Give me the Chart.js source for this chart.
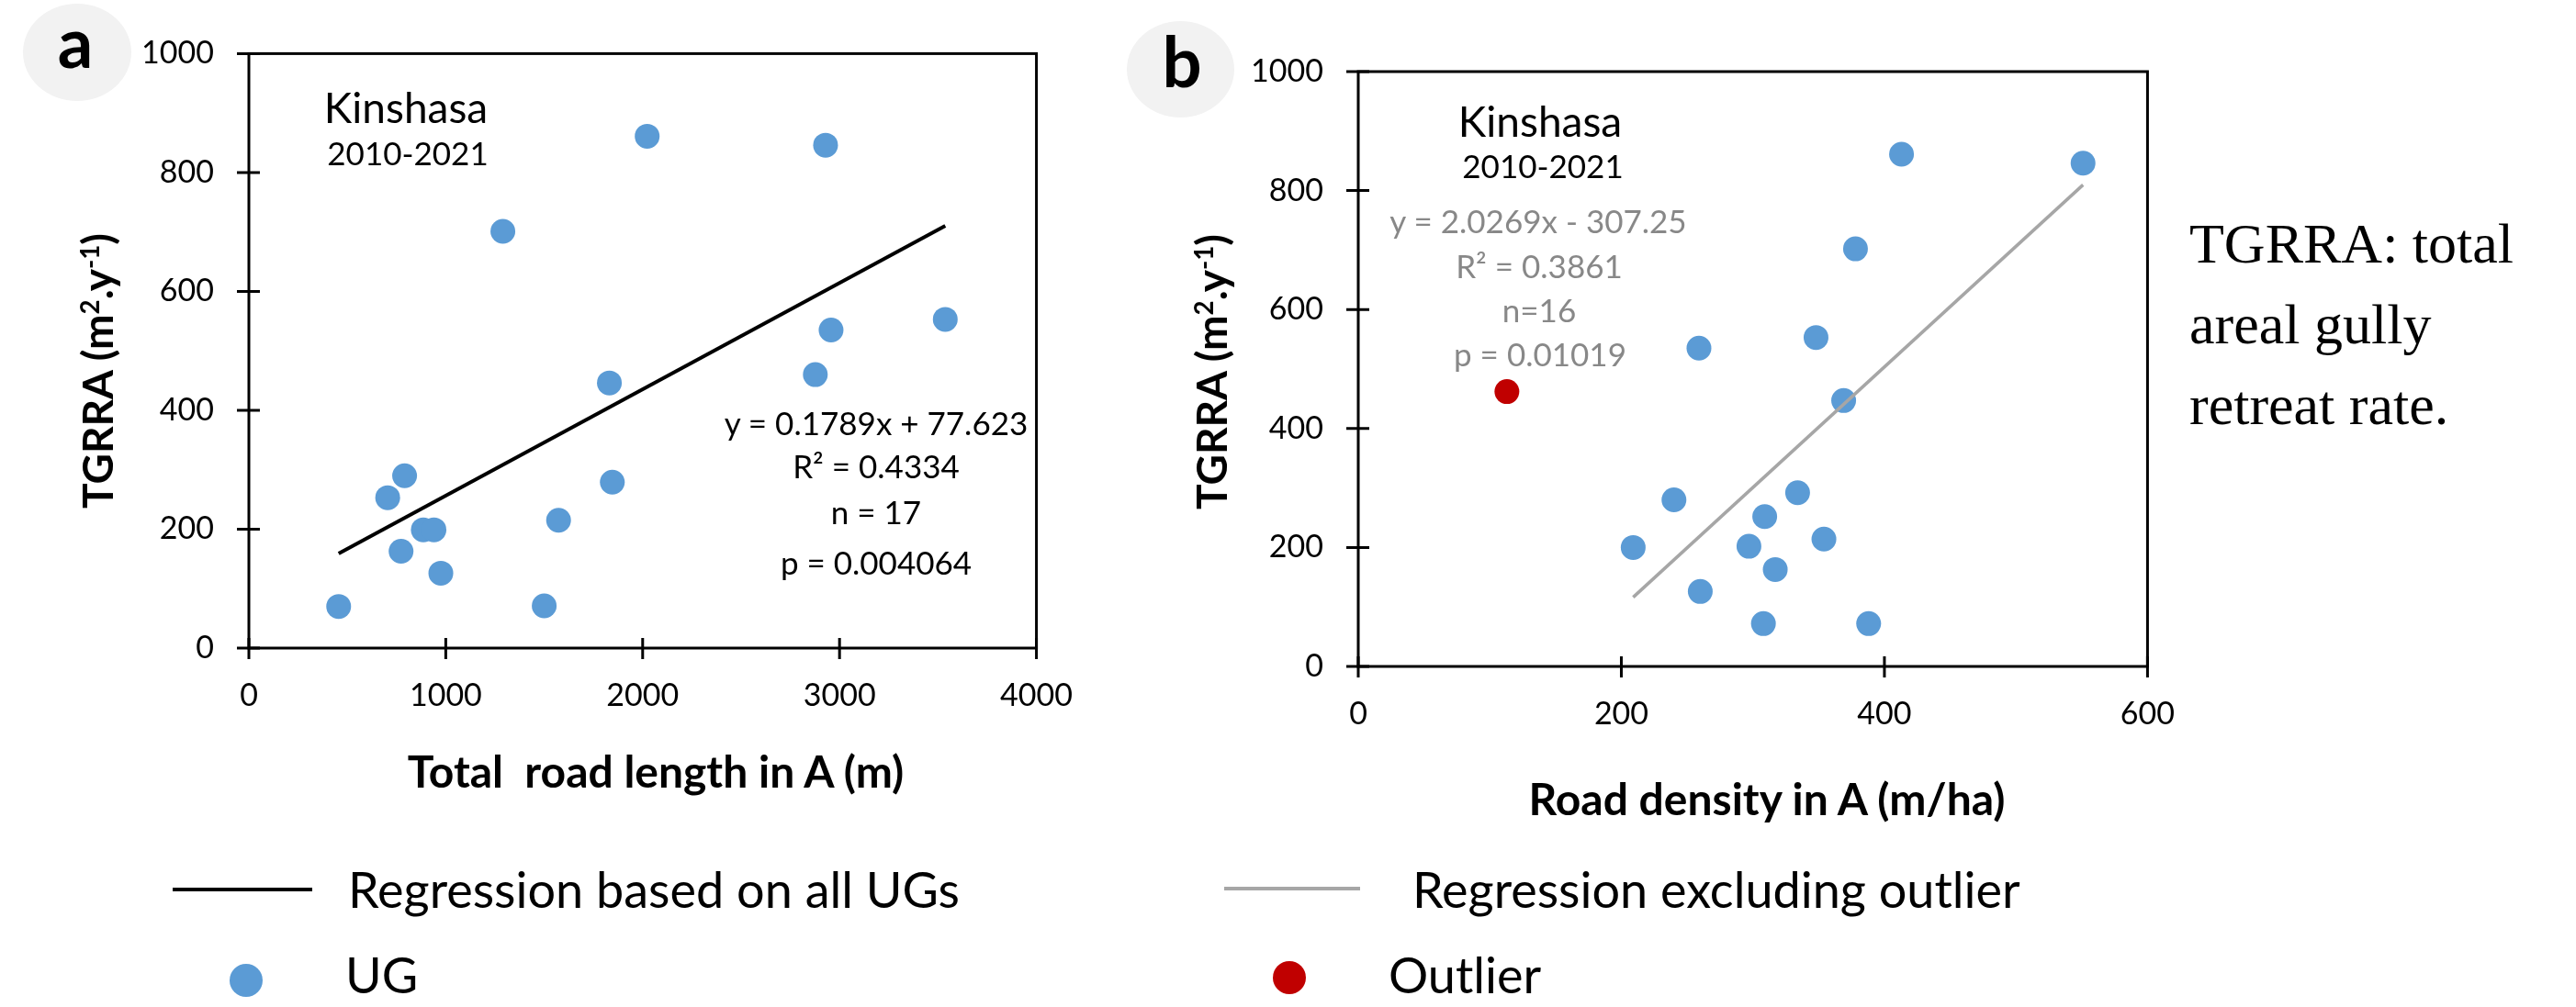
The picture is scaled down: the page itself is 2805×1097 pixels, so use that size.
<!DOCTYPE html>
<html>
<head>
<meta charset="utf-8">
<script src="https://cdn.jsdelivr.net/npm/chart.js@4.4.0/dist/chart.umd.min.js"></script>
<style>
  html, body { margin:0; padding:0; background:#fff; }
  #page { position:relative; width:2805px; height:1097px; overflow:hidden; font-family:Lato, sans-serif; color:#000; }
  canvas { position:absolute; top:0; }
  .t { position:absolute; transform:translate(-50%,-50%); line-height:1; white-space:pre; }
  .gray { color:#888; }
  .ttl { font-weight:bold; font-size:48px; }
  .rot { font-size:46px; transform:translate(-50%,-50%) rotate(-90deg); }
  sup { font-size:0.6em; position:relative; top:-0.55em; vertical-align:baseline; line-height:0; }
  .badge { position:absolute; border-radius:50%; background:#f2f2f2; }
  .letter { font-weight:bold; font-size:76px; }
  .lg-line { position:absolute; height:4px; }
  .lg-dot { position:absolute; width:36px; height:36px; border-radius:50%; transform:translate(-50%,-50%); }
  .lg-text { position:absolute; font-size:54px; line-height:1; transform:translateY(-50%); white-space:nowrap; }
  #note { position:absolute; left:2384px; top:221px; font-family:"Liberation Serif", "Times New Roman", serif; font-size:62px; line-height:88px; }
</style>
</head>
<body>
<div id="page">
  <canvas id="chartA" width="1200" height="900" style="left:0"></canvas>
  <canvas id="chartB" width="1200" height="900" style="left:1200px"></canvas>

  <!-- panel badges -->
  <div class="badge" style="left:25px;top:4px;width:118px;height:106px"></div>
  <div class="t letter" style="left:82px;top:45px">a</div>
  <div class="badge" style="left:1227px;top:23px;width:117px;height:105px"></div>
  <div class="t letter" style="left:1287px;top:66px">b</div>

  <!-- panel a annotations -->
  <div class="t" style="left:442px;top:117px;font-size:46px">Kinshasa</div>
  <div class="t" style="left:444px;top:166px;font-size:35px">2010-2021</div>
  <div class="t" style="left:954px;top:460px;font-size:35px">y = 0.1789x + 77.623</div>
  <div class="t" style="left:954px;top:507px;font-size:35px">R² = 0.4334</div>
  <div class="t" style="left:954px;top:557px;font-size:35px">n = 17</div>
  <div class="t" style="left:954px;top:612px;font-size:35px">p = 0.004064</div>
  <div class="t ttl" style="left:714px;top:840px">Total  road length in A (m)</div>
  <div class="t ttl rot" style="left:106px;top:404px">TGRRA (m<sup>2</sup>.y<sup>-1</sup>)</div>

  <!-- panel b annotations -->
  <div class="t" style="left:1677px;top:132px;font-size:46px">Kinshasa</div>
  <div class="t" style="left:1680px;top:180px;font-size:35px">2010-2021</div>
  <div class="t gray" style="left:1675px;top:240px;font-size:35px">y = 2.0269x - 307.25</div>
  <div class="t gray" style="left:1676px;top:289px;font-size:35px">R² = 0.3861</div>
  <div class="t gray" style="left:1676px;top:337px;font-size:35px">n=16</div>
  <div class="t gray" style="left:1677px;top:385px;font-size:35px">p = 0.01019</div>
  <div class="t ttl" style="left:1924px;top:870px">Road density in A (m/ha)</div>
  <div class="t ttl rot" style="left:1319px;top:405px">TGRRA (m<sup>2</sup>.y<sup>-1</sup>)</div>

  <div id="note">TGRRA: total<br>areal gully<br>retreat rate.</div>

  <!-- shared legend -->
  <div class="lg-line" style="left:188px;top:967px;width:152px;background:#000"></div>
  <div class="lg-text" style="left:379px;top:969px">Regression based on all UGs</div>
  <div class="lg-line" style="left:1333px;top:966px;width:148px;background:#a6a6a6"></div>
  <div class="lg-text" style="left:1538px;top:969px">Regression excluding outlier</div>
  <div class="lg-dot" style="left:268px;top:1068px;background:#5b9bd5"></div>
  <div class="lg-text" style="left:376px;top:1062px">UG</div>
  <div class="lg-dot" style="left:1404px;top:1065px;background:#c00000"></div>
  <div class="lg-text" style="left:1512px;top:1062px">Outlier</div>
</div>

<script>
'use strict';

// --- Data ---
// panel a: total road length in A (m) vs TGRRA (m2/y), all 17 UGs
const roadLengthA = [456, 705, 773, 791, 886, 940, 975, 1290, 1500, 1573, 1831, 1846, 2023, 2877, 2929, 2957, 3537];
const tgrraA      = [70, 253, 163, 290, 199, 199, 126, 701, 71, 215, 446, 279, 861, 460, 846, 535, 553];
const fitA        = [0.1789, 77.623];   // slope, intercept

// panel b: road density in A (m/ha) vs TGRRA, 16 UGs + the outlier
const roadDensityB = [209, 240, 259, 260, 297, 308, 309, 317, 334, 348, 354, 369, 378, 388, 413, 551];
const tgrraB       = [200, 280, 535, 126, 202, 72, 252, 163, 292, 553, 214, 447, 702, 72, 861, 846];
const outlierX     = [113];
const outlierY     = [462];
const fitB         = [2.0269, -307.25];

// tick labels
const xTicksA = [0, 1000, 2000, 3000, 4000];
const xTicksB = [0, 200, 400, 600];
const yTicks  = [0, 200, 400, 600, 800, 1000];

Chart.defaults.font.family = 'Lato, sans-serif';
Chart.defaults.color = '#000';

// --- Utils ---
function pts(xs, ys){ return xs.map((x, i) => ({ x, y: ys[i] })); }
function fitLine(xs, [m, b]){
  const lo = Math.min(...xs), hi = Math.max(...xs);
  return [{ x: lo, y: m*lo + b }, { x: hi, y: m*hi + b }];
}

// frame round the plot + Excel-style ticks crossing the axis
const frame = {
  id: 'frame',
  beforeDatasetsDraw(chart){
    const { ctx, chartArea: a, scales: { x, y } } = chart;
    ctx.save();
    ctx.strokeStyle = '#000';
    ctx.lineWidth = 3;
    ctx.strokeRect(a.left, a.top, a.right - a.left, a.bottom - a.top);
    ctx.beginPath();
    x.ticks.forEach(t => {
      const px = x.getPixelForValue(t.value);
      ctx.moveTo(px, a.bottom - 11); ctx.lineTo(px, a.bottom + 12);
    });
    y.ticks.forEach(t => {
      const py = y.getPixelForValue(t.value);
      ctx.moveTo(a.left - 13, py); ctx.lineTo(a.left + 12, py);
    });
    ctx.stroke();
    ctx.restore();
  }
};

function makeChart(id, datasets, xTicks, yAxisW, xAxisH, pad){
  return new Chart(document.getElementById(id), {
    type: 'scatter',
    data: { datasets },
    options: {
      responsive: false, animation: false, devicePixelRatio: 1,
      layout: { padding: pad },
      plugins: { legend: { display: false }, tooltip: { enabled: false } },
      scales: {
        x: {
          type: 'linear', min: xTicks[0], max: xTicks[xTicks.length - 1],
          afterBuildTicks: s => { s.ticks = xTicks.map(v => ({ value: v })); },
          afterFit: s => { s.height = xAxisH; },
          grid: { display: false, drawTicks: false }, border: { display: false },
          ticks: { font: { size: 34 }, padding: 32, autoSkip: false, maxRotation: 0, callback: v => String(v) }
        },
        y: {
          type: 'linear', min: yTicks[0], max: yTicks[yTicks.length - 1],
          afterBuildTicks: s => { s.ticks = yTicks.map(v => ({ value: v })); },
          afterFit: s => { s.width = yAxisW; },
          grid: { display: false, drawTicks: false }, border: { display: false },
          ticks: { font: { size: 34 }, padding: 38, autoSkip: false, callback: v => String(v) }
        }
      }
    },
    plugins: [frame]
  });
}

const dot = (color) => ({
  backgroundColor: color, pointBackgroundColor: color,
  pointBorderWidth: 0, pointRadius: 13.5, pointHoverRadius: 13.5
});

// --- Render ---
makeChart('chartA', [
  { data: fitLine(roadLengthA, fitA), showLine: true, borderColor: '#000', borderWidth: 4, pointRadius: 0 },
  { data: pts(roadLengthA, tgrraA), ...dot('#5b9bd5') }
], xTicksA, 271, 194, { left: 0, top: 57, right: 61, bottom: 0 });

makeChart('chartB', [
  { data: fitLine(roadDensityB, fitB), showLine: true, borderColor: '#a6a6a6', borderWidth: 3.5, pointRadius: 0 },
  { data: pts(roadDensityB, tgrraB), ...dot('#5b9bd5') },
  { data: pts(outlierX, outlierY), ...dot('#c00000') }
], xTicksB, 279, 174, { left: 0, top: 78, right: 60, bottom: 0 });
</script>
</body>
</html>
